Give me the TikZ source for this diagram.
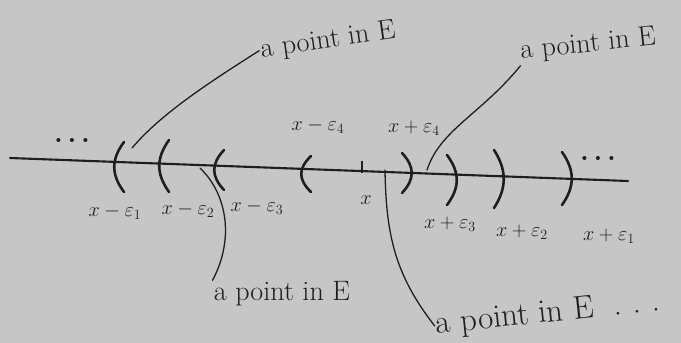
\documentclass[tikz,border=0pt]{standalone}
\usepackage{tikz}
\definecolor{bg}{RGB}{198,198,198}
\definecolor{ink}{RGB}{30,30,30}
\tikzset{
  ink line/.style={draw=ink, line width=1.1pt, line cap=round},
  paren/.style={draw=ink, line width=2.2pt, line cap=round},
  lbl/.style={text=ink, inner sep=1pt, font=\fontsize{24}{26}\selectfont},
  biglbl/.style={text=ink, inner sep=1pt, font=\fontsize{28}{30}\selectfont},
  mlbl/.style={text=ink, inner sep=1pt, font=\fontsize{17}{19}\selectfont},
  dots/.style={text=ink, inner sep=1pt, font=\fontsize{24}{26}\selectfont\bfseries},
}
\begin{document}
\begin{tikzpicture}[x=0.03cm,y=-0.03cm]
\fill[bg] (0,0) rectangle (681,343);
\useasboundingbox (0,0) rectangle (681,343);
% number line
\coordinate (L) at (10,158);
\coordinate (R) at (628,181);
\draw[draw=ink, line width=1.8pt, line cap=round] (L) -- (R);
% dots
\node[dots] (ldots) at (72,140) {.\,.\,.};
\node[dots] (rdots) at (598,158) {.\,.\,.};
% left parens
\foreach \x/\t/\b in {118/142/192, 163/140/192, 218/150/190, 305/156/192}{
  \draw[paren] (\x+6,\t) .. controls (\x-7,\t+0.35*\b-0.35*\t) and (\x-7,\t+0.65*\b-0.65*\t) .. (\x+6,\b);
}
% right parens
\foreach \x/\t/\b in {408/153/193, 453/155/205, 500/150/208, 568/152/205}{
  \draw[paren] (\x-6,\t) .. controls (\x+7,\t+0.35*\b-0.35*\t) and (\x+7,\t+0.65*\b-0.65*\t) .. (\x-6,\b);
}
% center tick
\draw[draw=ink, line width=1.6pt] (362,161) -- (362,173);
\node[mlbl] (xc) at (366,200) {$x$};
% interval labels
\node[mlbl] (l1) at (115,212) {$x-\varepsilon_1$};
\node[mlbl] (l2) at (188,210) {$x-\varepsilon_2$};
\node[mlbl] (l3) at (257,207) {$x-\varepsilon_3$};
\node[mlbl] (l4) at (318,126) {$x-\varepsilon_4$};
\node[mlbl] (r4) at (414,128) {$x+\varepsilon_4$};
\node[mlbl] (r3) at (450,224) {$x+\varepsilon_3$};
\node[mlbl] (r2) at (522,232) {$x+\varepsilon_2$};
\node[mlbl] (r1) at (609,236) {$x+\varepsilon_1$};
% point labels
\node[lbl, rotate=8] (tl) at (328,41) {a point in E};
\node[lbl, rotate=6] (tr) at (588,45) {a point in E};
\node[lbl] (bl) at (282,294) {a point in E};
\node[biglbl, rotate=6] (br) at (548,314) {a point in E\ \ .\,\,.\,\,.};
% leader endpoints
\coordinate (p1) at (132,148);
\coordinate (p2) at (427,170);
\coordinate (p3) at (200,168);
\coordinate (p4) at (385,170);
\draw[ink line] (tl.west) .. controls (205,85) and (160,115) .. (p1);
\draw[ink line] (tr.south west) .. controls (480,115) and (440,130) .. (p2);
\draw[ink line] (bl.north west) .. controls (234,240) and (228,195) .. (p3);
\draw[ink line] (br.west) .. controls (395,275) and (386,235) .. (p4);
\end{tikzpicture}
\end{document}
